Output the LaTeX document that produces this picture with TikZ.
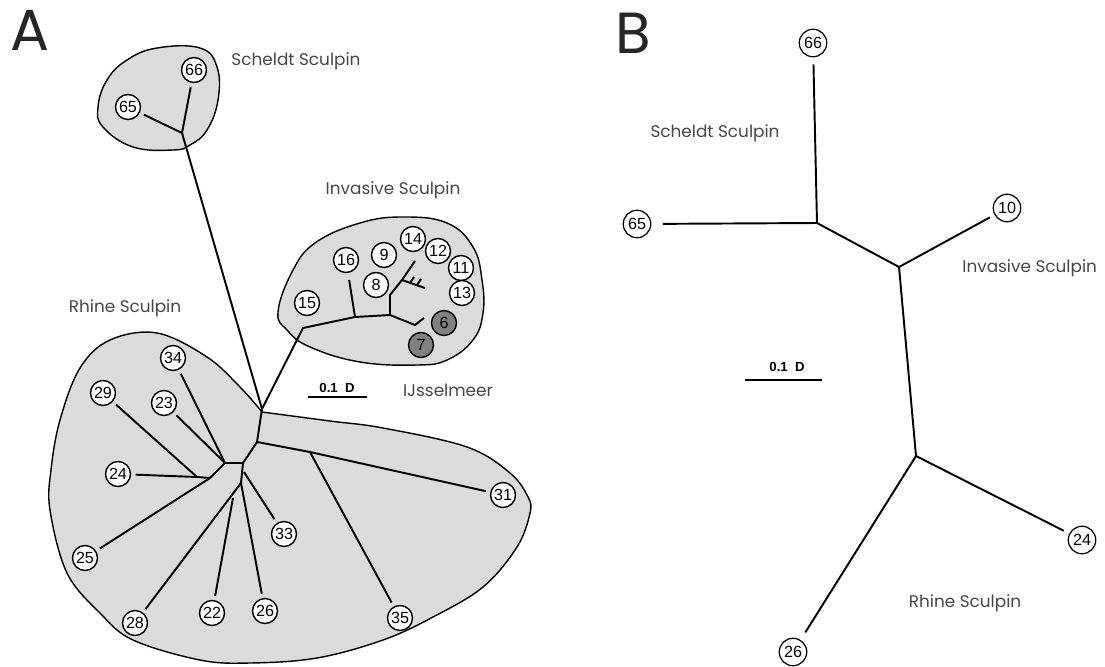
\documentclass[tikz,border=0pt]{standalone}
\usepackage{fontspec}
\setmainfont{Poppins}
\newfontfamily\numfont{Liberation Sans}
\begin{document}
\begin{tikzpicture}[x=0.02cm,y=-0.02cm,
  lbl/.style={text=black!72, font=\fontsize{9.6}{10}\selectfont, inner sep=0pt},
  big/.style={font=\fontsize{33}{33}\selectfont, inner sep=0pt, text=black!85},
  leaf/.style={circle, draw, line width=0.8pt, fill=white, minimum size=0.5cm, inner sep=0pt, font=\numfont\fontsize{9.2}{10}\selectfont},
  dleaf/.style={leaf, fill=black!50},
  bleaf/.style={leaf, minimum size=0.55cm, line width=0.7pt},
  br/.style={line width=1.1pt},
  tobr/.style={br, shorten >=2.5pt},
  blob/.style={fill=black!14, draw, line width=0.8pt},
  sbar/.style={line width=1.1pt},
  stxt/.style={font=\numfont\bfseries\fontsize{7.5}{8}\selectfont, inner sep=0pt}
]
\useasboundingbox (0,0) rectangle (1105,666);

% ---------- Panel A blobs ----------
\draw[blob] plot[smooth cycle, tension=0.7] coordinates {(157,48) (200,48) (217,67) (218,100) (207,130) (190,145) (173,150) (133,147) (103,127) (98,107) (107,80) (127,60)};
\draw[blob] plot[smooth cycle, tension=0.7] coordinates {(278,312) (292,272) (315,243) (360,223) (403,217) (447,223) (473,247) (482,280) (483,313) (473,340) (447,360) (417,365) (360,362) (310,347) (287,330)};
\draw[blob] plot[smooth, tension=0.6] coordinates {(262,412) (330,421) (383,428) (467,447) (510,473) (528,497) (530,513) (517,547) (483,587) (433,617) (383,640) (317,658) (250,663) (200,660) (133,640) (100,613) (67,573) (50,510) (51,470) (60,420) (80,368) (110,340) (157,333) (207,357) (240,387) (262,412)};

% ---------- Panel A labels ----------
\node[big] (labA) at (30,30) {A};
\node[lbl] (tScheldtA) at (296,61) {Scheldt Sculpin};
\node[lbl] (tInvA) at (393,190) {Invasive Sculpin};
\node[lbl] (tIJ) at (448,390) {IJsselmeer};
\node[lbl] (tRhineA) at (125,308) {Rhine Sculpin};
\coordinate (sa1) at (308,397);
\coordinate (sa2) at (367,397);
\draw[sbar] (sa1) -- (sa2);
\node[stxt] (sta) at (337,388) {0.1\ \ D};

% ---------- Panel A tree coordinates ----------
\coordinate (jS) at (182,133);
\coordinate (jC) at (262,409);
\coordinate (jI0) at (303,328);
\coordinate (jI1) at (355,317);
\coordinate (jI2) at (390,315);
\coordinate (jI3) at (390,295);
\coordinate (jI4) at (402,280);
\coordinate (eI1) at (415,261);
\coordinate (eI2) at (425,288);
\coordinate (tI1a) at (410,283);
\coordinate (tI1b) at (414,277);
\coordinate (tI2a) at (417,285);
\coordinate (tI2b) at (421,279);
\coordinate (jI5) at (415,325);
\coordinate (eI5) at (424,318);
\coordinate (jR1) at (257,442);
\coordinate (jR2) at (310,452);
\coordinate (jR3) at (243,463);
\coordinate (jR4) at (225,463);
\coordinate (jR5) at (210,478);
\coordinate (jR6) at (197,477);
\coordinate (jR7) at (241,483);
\coordinate (jR8) at (233,498);
\coordinate (jR9) at (244,472);

% ---------- Panel A leaves ----------
\node[leaf] (a66) at (194,70) {66};
\node[leaf] (a65) at (128,107) {65};
\node[leaf] (a16) at (346,260) {16};
\node[leaf] (a9) at (384,255) {9};
\node[leaf] (a14) at (413,239) {14};
\node[leaf] (a12) at (438,251) {12};
\node[leaf] (a11) at (461,268) {11};
\node[leaf] (a13) at (462,293) {13};
\node[leaf] (a8) at (376,285) {8};
\node[leaf] (a15) at (307,303) {15};
\node[dleaf] (a6) at (444,323) {6};
\node[dleaf] (a7) at (421,345) {7};
\node[leaf] (a34) at (173,358) {34};
\node[leaf] (a29) at (103,393) {29};
\node[leaf] (a23) at (164,403) {23};
\node[leaf] (a24) at (118,474) {24};
\node[leaf] (a25) at (85,558) {25};
\node[leaf] (a28) at (135,623) {28};
\node[leaf] (a22) at (212,613) {22};
\node[leaf] (a26) at (265,611) {26};
\node[leaf] (a33) at (284,534) {33};
\node[leaf] (a31) at (503,495) {31};
\node[leaf] (a35) at (400,618) {35};

% ---------- Panel A branches ----------
\draw[tobr] (jS) -- (a66);
\draw[tobr] (jS) -- (a65);
\draw[br] (jS) -- (jC);
\draw[br] (jC) -- (jI0) -- (jI1) -- (jI2) -- (jI3) -- (jI4) -- (eI1);
\draw[br, shorten >=4pt] (jI1) -- (a16);
\draw[br] (jI4) -- (eI2);
\draw[br] (tI1a) -- (tI1b);
\draw[br] (tI2a) -- (tI2b);
\draw[br] (jI2) -- (jI5) -- (eI5);
\draw[br] (jC) -- (jR1) -- (jR3) -- (jR4) -- (jR5);
\draw[br] (jR1) -- (jR2);
\draw[tobr] (jR2) -- (a31);
\draw[tobr] (jR2) -- (a35);
\draw[tobr] (jR4) -- (a34);
\draw[tobr] (jR4) -- (a23);
\draw[br] (jR5) -- (jR6);
\draw[tobr] (jR6) -- (a24);
\draw[tobr] (jR6) -- (a29);
\draw[tobr] (jR5) -- (a25);
\draw[br] (jR3) -- (jR7);
\draw[tobr] (jR7) -- (a28);
\draw[tobr] (jR8) -- (a22);
\draw[tobr] (jR7) -- (a26);
\draw[tobr] (jR9) -- (a33);

% ---------- Panel B ----------
\node[big] (labB) at (633,33) {B};
\node[lbl] (tScheldtB) at (715,133) {Scheldt Sculpin};
\node[lbl, anchor=west] (tInvB) at (962,268) {Invasive Sculpin};
\node[lbl] (tRhineB) at (965,603) {Rhine Sculpin};
\coordinate (sb1) at (745,380);
\coordinate (sb2) at (822,380);
\draw[sbar] (sb1) -- (sb2);
\node[stxt] (stb) at (787,367) {0.1\ \ D};

\coordinate (bj1) at (817,223);
\coordinate (bj2) at (899,267);
\coordinate (bj3) at (916,456);
\node[bleaf] (b66) at (813,43) {66};
\node[bleaf] (b65) at (637,224) {65};
\node[bleaf] (b10) at (1007,208) {10};
\node[bleaf] (b24) at (1082,540) {24};
\node[bleaf] (b26) at (793,652) {26};
\draw[br, shorten >=4pt] (bj1) -- (b66);
\draw[br, shorten >=6.5pt] (bj1) -- (b65);
\draw[br] (bj1) -- (bj2) -- (bj3);
\draw[br, shorten >=3pt] (bj2) -- (b10);
\draw[br, shorten >=3.5pt] (bj3) -- (b24);
\draw[br, shorten >=5pt] (bj3) -- (b26);
\end{tikzpicture}
\end{document}
